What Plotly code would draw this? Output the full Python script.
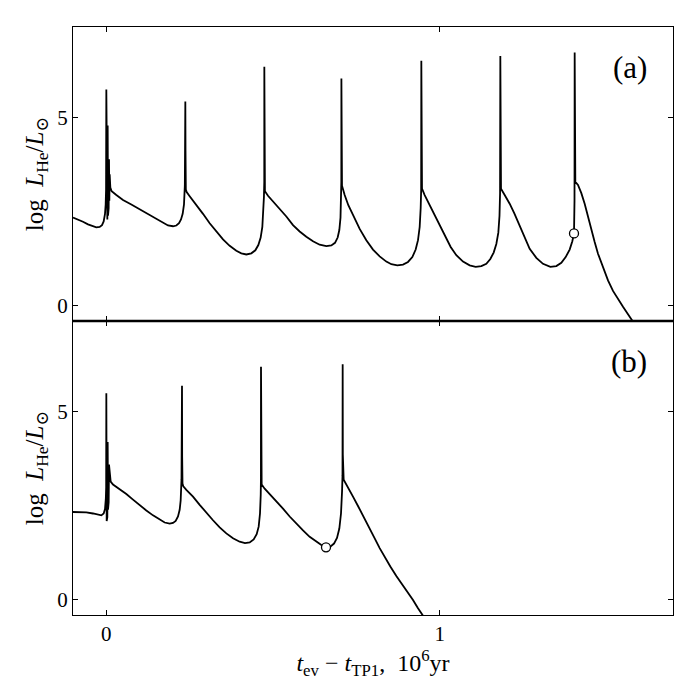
import plotly.graph_objects as go
from plotly.subplots import make_subplots

# ── panel (a): log L_He vs time since first thermal pulse (1e6 yr) ──
t_a = [-0.10, -0.085, -0.07, -0.055, -0.04, -0.03, -0.02, -0.013, -0.008, -0.004, -0.002, -0.0008, 0.0,
       0.0015, 0.003, 0.004, 0.005, 0.006, 0.007, 0.008, 0.009, 0.010, 0.012, 0.016,
       0.03, 0.05, 0.075, 0.10, 0.125, 0.15, 0.17, 0.185, 0.20, 0.21, 0.218, 0.224, 0.229, 0.233,
       0.2355, 0.237, 0.2375, 0.2385, 0.241,
       0.25, 0.27, 0.29, 0.31, 0.33, 0.35, 0.37, 0.39, 0.405, 0.42, 0.435, 0.447, 0.456, 0.463,
       0.468, 0.471, 0.4728, 0.4738, 0.474, 0.4745, 0.4758,
       0.485, 0.50, 0.52, 0.54, 0.56, 0.58, 0.60, 0.62, 0.64, 0.66, 0.675, 0.686, 0.694, 0.699,
       0.7025, 0.7043, 0.7050, 0.7052, 0.7057, 0.707,
       0.715, 0.726, 0.74, 0.76, 0.78, 0.80, 0.82, 0.84, 0.855, 0.873, 0.89, 0.905, 0.918, 0.928,
       0.935, 0.940, 0.943, 0.9445, 0.945, 0.9455, 0.947,
       0.955, 0.97, 0.985, 1.003, 1.018, 1.033, 1.05, 1.07, 1.09, 1.108, 1.125, 1.14, 1.152, 1.162,
       1.170, 1.176, 1.1795, 1.1812, 1.182, 1.1825, 1.184,
       1.195, 1.21, 1.224, 1.24, 1.255, 1.27, 1.29, 1.31, 1.332, 1.35, 1.365, 1.378, 1.39, 1.398,
       1.403, 1.4045, 1.405, 1.4055, 1.407,
       1.415, 1.425, 1.435, 1.445, 1.455, 1.465, 1.475, 1.49, 1.505, 1.52, 1.535, 1.55, 1.565,
       1.58, 1.59]
logL_a = [2.35, 2.30, 2.24, 2.17, 2.12, 2.09, 2.10, 2.15, 2.25, 2.45, 2.70, 3.10, 5.76,
          3.20, 2.30, 4.80, 2.40, 4.30, 2.60, 3.90, 2.80, 3.50, 3.15, 3.05,
          2.95, 2.82, 2.70, 2.57, 2.43, 2.30, 2.20, 2.14, 2.12, 2.14, 2.20, 2.30, 2.45, 2.70,
          3.20, 5.44, 4.15, 3.10, 3.03,
          2.92, 2.70, 2.45, 2.20, 1.97, 1.77, 1.60, 1.47, 1.40, 1.37, 1.40, 1.48, 1.62, 1.82,
          2.10, 2.50, 2.90, 3.30, 6.36, 4.20, 3.05,
          2.93, 2.78, 2.58, 2.38, 2.15, 1.98, 1.84, 1.72, 1.63, 1.59, 1.61, 1.68, 1.82, 2.02,
          2.35, 2.80, 3.30, 6.05, 3.90, 3.20,
          2.95, 2.68, 2.42, 2.05, 1.75, 1.50, 1.32, 1.18, 1.11, 1.08, 1.10, 1.17, 1.30, 1.50,
          1.75, 2.10, 2.60, 3.10, 6.52, 4.10, 3.12,
          2.95, 2.68, 2.40, 2.10, 1.82, 1.57, 1.35, 1.18, 1.08, 1.04, 1.06, 1.12, 1.25, 1.42,
          1.65, 1.95, 2.40, 3.00, 6.65, 4.20, 3.12,
          2.95, 2.72, 2.46, 2.12, 1.80, 1.52, 1.28, 1.12, 1.04, 1.06, 1.15, 1.30, 1.50, 1.72,
          1.93, 2.80, 6.74, 4.00, 3.30,
          3.22, 3.00, 2.72, 2.37, 2.00, 1.70, 1.39, 1.02, 0.68, 0.40, 0.18, -0.02, -0.22,
          -0.41, -0.55]

# ── panel (b) ──
t_b = [-0.10, -0.08, -0.06, -0.04, -0.025, -0.015, -0.008, -0.004, -0.0015, -0.0005, 0.0,
       0.001, 0.002, 0.003, 0.004, 0.005, 0.006, 0.007, 0.008, 0.010, 0.013, 0.02,
       0.04, 0.06, 0.08, 0.10, 0.12, 0.14, 0.16, 0.175, 0.19, 0.20, 0.208, 0.215, 0.220, 0.223,
       0.2255, 0.227, 0.2275, 0.2285, 0.231,
       0.24, 0.26, 0.28, 0.30, 0.32, 0.34, 0.36, 0.38, 0.40, 0.416, 0.43, 0.442, 0.451, 0.457,
       0.461, 0.4632, 0.4638, 0.464, 0.4645, 0.466,
       0.475, 0.49, 0.51, 0.53, 0.55, 0.57, 0.59, 0.61, 0.63, 0.645, 0.659, 0.672, 0.683, 0.692,
       0.699, 0.704, 0.7072, 0.7085, 0.709, 0.7095, 0.712,
       0.72, 0.73, 0.74, 0.755, 0.772, 0.787, 0.802, 0.82, 0.836, 0.852, 0.87, 0.886, 0.903,
       0.92, 0.935, 0.948, 0.96]
logL_b = [2.34, 2.34, 2.33, 2.30, 2.26, 2.25, 2.30, 2.42, 2.70, 3.00, 5.50,
          2.10, 4.70, 2.20, 4.20, 2.40, 3.90, 2.60, 3.60, 3.30, 3.15, 3.07,
          2.95, 2.82, 2.67, 2.52, 2.38, 2.25, 2.13, 2.06, 2.03, 2.05, 2.10, 2.22, 2.40, 2.65,
          3.20, 5.70, 3.80, 3.10, 3.02,
          2.93, 2.75, 2.53, 2.32, 2.12, 1.93, 1.77, 1.64, 1.55, 1.51, 1.53, 1.61, 1.75, 1.95,
          2.30, 2.80, 3.20, 6.20, 3.90, 3.07,
          2.96, 2.82, 2.64, 2.43, 2.22, 2.03, 1.85, 1.68, 1.55, 1.46, 1.40, 1.42, 1.50, 1.65,
          1.90, 2.30, 2.90, 3.30, 6.27, 3.87, 3.20,
          3.08, 2.92, 2.75, 2.50, 2.22, 1.95, 1.69, 1.38, 1.13, 0.89, 0.64, 0.44, 0.22,
          0.00, -0.22, -0.40, -0.55]

# open-circle markers
mark_t = [1.403, 0.659]
mark_logL = [1.93, 1.40]

panel_labels = ["(a)", "(b)"]

SERIF = "Liberation Serif, DejaVu Serif, serif"

fig = make_subplots(rows=2, cols=1, shared_xaxes=True, vertical_spacing=0)

fig.add_trace(go.Scatter(x=t_a, y=logL_a, mode='lines',
                         line=dict(color='black', width=1.8), showlegend=False), row=1, col=1)
fig.add_trace(go.Scatter(x=t_b, y=logL_b, mode='lines',
                         line=dict(color='black', width=1.8), showlegend=False), row=2, col=1)
fig.add_trace(go.Scatter(x=[mark_t[0]], y=[mark_logL[0]], mode='markers',
                         marker=dict(size=9, color='white', line=dict(color='black', width=1.3)),
                         showlegend=False), row=1, col=1)
fig.add_trace(go.Scatter(x=[mark_t[1]], y=[mark_logL[1]], mode='markers',
                         marker=dict(size=9, color='white', line=dict(color='black', width=1.3)),
                         showlegend=False), row=2, col=1)

ax_common = dict(showline=True, linecolor='black', linewidth=1.2, mirror='allticks',
                 ticks='inside', ticklen=5, tickwidth=1, tickcolor='black',
                 showgrid=False, zeroline=False)

fig.update_xaxes(range=[-0.10, 1.70], tickvals=[0, 1], ticktext=['0', '1'], **ax_common)
fig.update_yaxes(range=[-0.40, 7.42], tickvals=[0, 5], ticktext=['0', '5'], **ax_common)
fig.update_xaxes(title=dict(text="<i>t</i><sub>ev</sub> − <i>t</i><sub>TP1</sub>,  10<sup>6</sup>yr",
                            font=dict(size=24), standoff=4), row=2, col=1)
for r in (1, 2):
    fig.update_yaxes(title=dict(text="log  <i>L</i><sub>He</sub>/<i>L</i><sub>⊙</sub>",
                                font=dict(size=25), standoff=6), row=r, col=1)

for i, lab in enumerate(panel_labels):
    fig.add_annotation(text=lab, x=0.96, y=0.93, xref='x domain' if i == 0 else 'x2 domain',
                       yref='y domain' if i == 0 else 'y2 domain',
                       xanchor='right', yanchor='top', showarrow=False,
                       font=dict(size=31, color='black', family=SERIF))

# heavier rule where the two panels meet
fig.add_shape(type='line', xref='x domain', yref='paper', x0=0, x1=1, y0=0.5, y1=0.5,
              line=dict(color='black', width=2.4))

# page body adds an 8 px offset, so the figure is a little smaller than the window
fig.update_layout(
    width=692, height=692,
    margin=dict(l=65, r=27, t=19, b=85),
    plot_bgcolor='white', paper_bgcolor='white',
    font=dict(family=SERIF, size=21, color='black'),
)

fig.write_html("out.html")
